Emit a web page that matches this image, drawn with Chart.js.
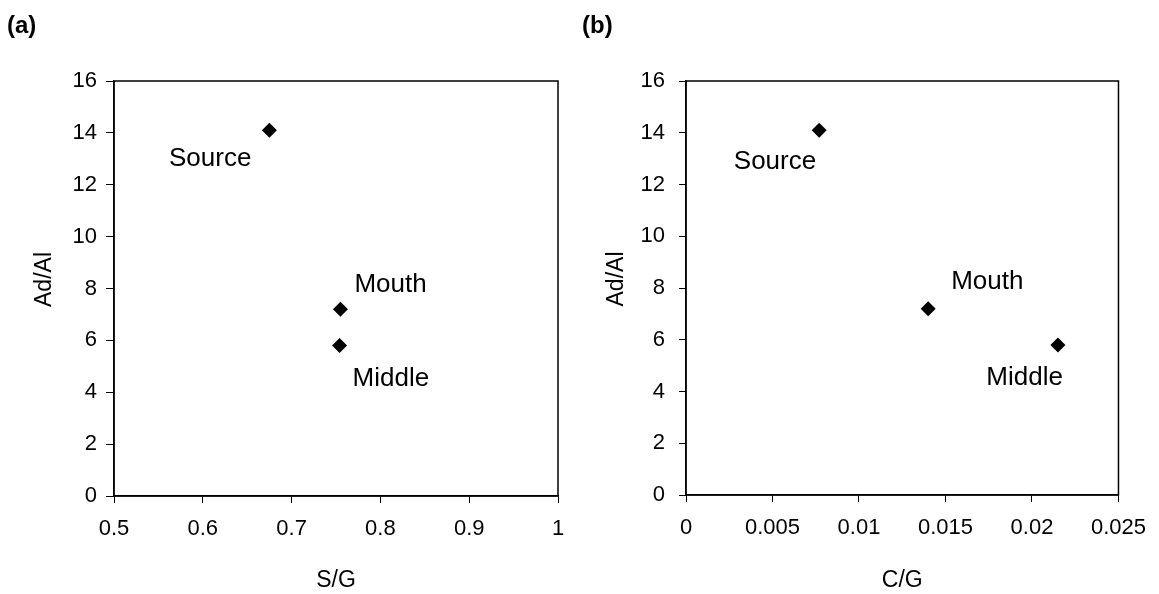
<!DOCTYPE html>
<html><head><meta charset="utf-8">
<script src="https://cdn.jsdelivr.net/npm/chart.js@4.4.1/dist/chart.umd.min.js"></script>
<style>
html,body{margin:0;padding:0;background:#fff;width:1159px;height:594px;overflow:hidden}
#ca{position:absolute;left:0;top:0}
#cb{position:absolute;left:580px;top:0}
</style></head><body>
<canvas id="ca" width="580" height="594"></canvas>
<canvas id="cb" width="579" height="594"></canvas>
<script>
// ---- data ----
const sites = ['Source', 'Mouth', 'Middle'];
const sgValues = [0.675, 0.755, 0.754];
const cgValues = [0.0077, 0.0140, 0.0215];
const adAlValues = [14.1, 7.2, 5.8];
const sgTickLabels = ['0.5', '0.6', '0.7', '0.8', '0.9', '1'];
const cgTickLabels = ['0', '0.005', '0.01', '0.015', '0.02', '0.025'];
const adAlTickLabels = ['0', '2', '4', '6', '8', '10', '12', '14', '16'];
const panelLabels = ['(a)', '(b)'];
const xTitles = ['S/G', 'C/G'];
const yTitle = 'Ad/Al';

// ---- styles ----
const FONT = "'Liberation Sans', Arial, Helvetica, sans-serif";
const labelOffsetsA = [
  {dx: -18, dy: 29, align: 'right'},
  {dx: 14, dy: -24, align: 'left'},
  {dx: 13, dy: 33, align: 'left'}
];
const labelOffsetsB = [
  {dx: -3, dy: 32, align: 'right'},
  {dx: 23, dy: -27, align: 'left'},
  {dx: 5, dy: 33, align: 'right'}
];

const framePlugin = {
  id: 'frame',
  afterDraw(chart, args, opts) {
    const {ctx, chartArea: a} = chart;
    ctx.save();
    ctx.strokeStyle = '#000';
    ctx.lineWidth = 1.5;
    ctx.strokeRect(a.left, a.top, a.right - a.left, a.bottom - a.top);
    ctx.fillStyle = '#000';
    ctx.font = '26px ' + FONT;
    ctx.textBaseline = 'middle';
    const meta = chart.getDatasetMeta(0);
    meta.data.forEach((pt, i) => {
      const o = opts.offsets[i];
      ctx.textAlign = o.align;
      ctx.fillText(sites[i], pt.x + o.dx, pt.y + o.dy);
    });
    // y axis title
    ctx.save();
    ctx.font = '23px ' + FONT;
    ctx.textAlign = 'center';
    ctx.translate(opts.yTitleX, (a.top + a.bottom) / 2 + opts.yTitleDy);
    ctx.rotate(-Math.PI / 2);
    ctx.fillText(yTitle, 0, 0);
    ctx.restore();
    // panel label
    ctx.font = 'bold 24px ' + FONT;
    ctx.textAlign = 'left';
    ctx.fillText(opts.panel, opts.panelX, opts.panelY);
    ctx.restore();
  }
};

function makeChart(id, xVals, xMin, xMax, xStep, xTicks, xTitle, L) {
  const data = xVals.map((x, i) => ({x: x, y: adAlValues[i]}));
  return new Chart(document.getElementById(id), {
    type: 'scatter',
    data: {datasets: [{
      data: data,
      pointStyle: 'rectRot',
      pointRadius: 7.5,
      pointHoverRadius: 7.5,
      backgroundColor: '#000',
      borderColor: '#000',
      borderWidth: 0
    }]},
    options: {
      responsive: false,
      animation: false,
      devicePixelRatio: 1,
      layout: {padding: {top: L.top, right: L.right, bottom: 0, left: 0}},
      plugins: {
        legend: {display: false},
        tooltip: {enabled: false},
        frame: {offsets: L.offsets, panel: L.panel, panelX: L.panelX, panelY: L.panelY,
                yTitleX: L.yTitleX, yTitleDy: -9}
      },
      scales: {
        x: {
          type: 'linear', position: 'bottom', min: xMin, max: xMax,
          afterFit(s) { s.height = L.xh; },
          ticks: {stepSize: xStep, padding: 13, color: '#000', autoSkip: false, maxRotation: 0,
                  font: {family: FONT, size: 22}, callback: (v, i) => xTicks[i]},
          grid: {drawOnChartArea: false, tickLength: 7, color: '#000', lineWidth: 1},
          border: {display: true, color: '#000', width: 1.5},
          title: {display: true, text: xTitle, color: '#000', font: {family: FONT, size: 23},
                  padding: {top: 0, bottom: 0}}
        },
        y: {
          type: 'linear', position: 'left', min: 0, max: 16,
          afterFit(s) { s.width = L.yw; },
          ticks: {stepSize: 2, padding: L.ytp, color: '#000', autoSkip: false,
                  font: {family: FONT, size: 22}, callback: (v, i) => adAlTickLabels[i]},
          grid: {drawOnChartArea: false, tickLength: L.ytl, color: '#000', lineWidth: 1},
          border: {display: true, color: '#000', width: 1.5},
          title: {display: false}
        }
      }
    },
    plugins: [framePlugin]
  });
}

makeChart('ca', sgValues, 0.5, 1, 0.1, sgTickLabels, xTitles[0],
  {top: 81, right: 22, xh: 98, yw: 114, ytp: 9, ytl: 8, yTitleX: 45,
   offsets: labelOffsetsA, panel: panelLabels[0], panelX: 7, panelY: 26});
makeChart('cb', cgValues, 0, 0.025, 0.005, cgTickLabels, xTitles[1],
  {top: 81, right: 37.5, xh: 99, yw: 106, ytp: 14, ytl: 7, yTitleX: 37,
   offsets: labelOffsetsB, panel: panelLabels[1], panelX: 2, panelY: 26});
</script>
</body></html>
